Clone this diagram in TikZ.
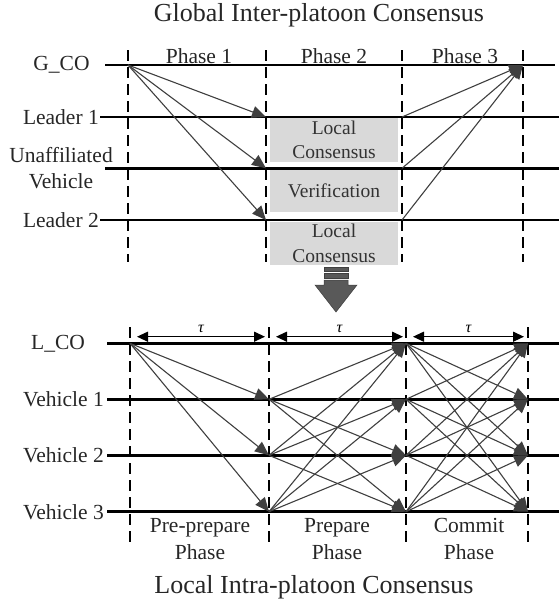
\documentclass[tikz,border=0pt]{standalone}
\usepackage{fontspec}
\setmainfont{Liberation Serif}
\usetikzlibrary{arrows.meta,positioning}

\definecolor{msggray}{HTML}{3F3F3F}
\definecolor{boxgray}{HTML}{D9D9D9}
\definecolor{bigarrow}{HTML}{595959}

\tikzset{
  lbl/.style={font=\fontsize{21.5}{26.5}\selectfont, inner sep=0pt, text=black!85},
  ttl/.style={font=\fontsize{26}{30}\selectfont, inner sep=0pt, text=black!85},
  boxlbl/.style={fill=boxgray, minimum width=128pt, inner sep=0pt, align=center,
    font=\fontsize{19.5}{24.5}\selectfont, text=black!80},
  taulbl/.style={font=\fontsize{16}{18}\selectfont\itshape, inner sep=0pt},
  timeline/.style={line width=2.8pt},
  phaseline/.style={line width=2pt, dash pattern=on 11pt off 6pt},
  msg/.style={draw=msggray, line width=1.1pt, -{Triangle[length=14pt,width=12pt]}},
  period/.style={line width=1.2pt, {Triangle[length=11pt,width=10pt]}-{Triangle[length=11pt,width=10pt]}}
}

\begin{document}
\begin{tikzpicture}[x=1pt,y=-1pt]
    \useasboundingbox (0,0) rectangle (559,606);

    \node[ttl] (T1) at (319,15) {Global Inter-platoon Consensus};
    \node[lbl] (GCO) at (61.5,65) {G\_CO};
    \node[lbl, anchor=east] (LD1) at (99,117) {Leader 1};
    \node[lbl, align=center] (UV) at (61,168) {Unaffiliated\\Vehicle};
    \node[lbl, anchor=east] (LD2) at (99,220) {Leader 2};
    \node[lbl] (PH1) at (199,56) {Phase 1};
    \node[lbl] (PH2) at (334,56) {Phase 2};
    \node[lbl] (PH3) at (465,56) {Phase 3};

    \node[boxlbl, minimum height=44pt] (LC1) at (334,140) {Local\\Consensus};
    \node[boxlbl, minimum height=42pt] (VF) at (334,191) {Verification};
    \node[boxlbl, minimum height=43pt] (LC2) at (334,243.5) {Local\\Consensus};

    \coordinate (GCO-s) at (105,65);
    \coordinate (GCO-e) at (555,65);
    \coordinate (LD1-e) at (559,117);
    \coordinate (UV-s) at (105,168.3);
    \coordinate (UV-e) at (559,168.3);
    \coordinate (LD2-e) at (559,220);
    \coordinate (GCO-a) at (128,65);
    \coordinate (GCO-d) at (523,65);
    \coordinate (LD1-b) at (266,117);
    \coordinate (UV-b) at (266,168.3);
    \coordinate (LD2-b) at (266,220);
    \coordinate (LD1-c) at (402,117);
    \coordinate (UV-c) at (402,168.3);
    \coordinate (LD2-c) at (402,220);

    \draw[timeline] (GCO-s) -- (GCO-e);
    \draw[timeline] ([xshift=1pt]LD1.east) -- (LD1-e);
    \draw[timeline] (UV-s) -- (UV-e);
    \draw[timeline] ([xshift=1pt]LD2.east) -- (LD2-e);

    \draw[phaseline] (128,50) -- (128,262);
    \draw[phaseline] (266,50) -- (266,262);
    \draw[phaseline] (402,50) -- (402,262);
    \draw[phaseline] (523,50) -- (523,262);

    \draw[msg] (GCO-a) -- (LD1-b);
    \draw[msg] (GCO-a) -- (UV-b);
    \draw[msg] (GCO-a) -- (LD2-b);
    \draw[msg] (LD1-c) -- (GCO-d);
    \draw[msg] (UV-c) -- (GCO-d);
    \draw[msg] (LD2-c) -- (GCO-d);

    \fill[bigarrow, draw=msggray, line width=0.5pt] (324,267) rectangle (348,271);
    \fill[bigarrow, draw=msggray, line width=0.5pt] (324,273) rectangle (348,278);
    \fill[bigarrow, draw=msggray, line width=0.5pt] (324,280) -- (348,280) -- (348,285)
      -- (357,285) -- (336,312) -- (315,285) -- (324,285) -- cycle;

    \node[lbl] (LCO) at (58,343.3) {L\_CO};
    \node[lbl, anchor=east] (VH1) at (104,399.3) {Vehicle 1};
    \node[lbl, anchor=east] (VH2) at (104,455.3) {Vehicle 2};
    \node[lbl, anchor=east] (VH3) at (104,511.7) {Vehicle 3};
    \node[lbl, align=center] (PP) at (200,539) {Pre-prepare\\Phase};
    \node[lbl, align=center] (PR) at (337,539) {Prepare\\Phase};
    \node[lbl, align=center] (CM) at (469,539) {Commit\\Phase};
    \node[ttl] (T2) at (314,587) {Local Intra-platoon Consensus};

    \coordinate (LCO-a) at (130,343.3);
    \coordinate (LCO-c) at (406,343.3);
    \coordinate (LCO-d) at (528,343.3);
    \coordinate (V1-b) at (269,399.3);
    \coordinate (V1-c) at (406,399.3);
    \coordinate (V1-d) at (528,399.3);
    \coordinate (V2-b) at (269,455.3);
    \coordinate (V2-c) at (406,455.3);
    \coordinate (V2-d) at (528,455.3);
    \coordinate (V3-b) at (269,511.7);
    \coordinate (V3-c) at (406,511.7);
    \coordinate (V3-d) at (528,511.7);

    \draw[timeline] (107,343.3) -- (559,343.3);
    \draw[timeline] (107,399.3) -- (559,399.3);
    \draw[timeline] (107,455.3) -- (559,455.3);
    \draw[timeline] (107,511.7) -- (559,511.7);

    \draw[phaseline] (130,327) -- (130,545);
    \draw[phaseline] (269,327) -- (269,545);
    \draw[phaseline] (406,327) -- (406,545);
    \draw[phaseline] (528,327) -- (528,545);

    \draw[period] (137,336.7) -- node[taulbl, above=3pt] (TAU1) {τ} (265,336.7);
    \draw[period] (276,336.7) -- node[taulbl, above=3pt] (TAU2) {τ} (403,336.7);
    \draw[period] (413,336.7) -- node[taulbl, above=3pt] (TAU3) {τ} (524,336.7);

    \draw[msg] (LCO-a) -- (V1-b);
    \draw[msg] (LCO-a) -- (V2-b);
    \draw[msg] (LCO-a) -- (V3-b);

    \draw[msg] (V1-b) -- (LCO-c);
    \draw[msg] (V1-b) -- (V2-c);
    \draw[msg] (V1-b) -- (V3-c);
    \draw[msg] (V2-b) -- (LCO-c);
    \draw[msg] (V2-b) -- (V1-c);
    \draw[msg] (V2-b) -- (V3-c);
    \draw[msg] (V3-b) -- (LCO-c);
    \draw[msg] (V3-b) -- (V1-c);
    \draw[msg] (V3-b) -- (V2-c);

    \draw[msg] (LCO-c) -- (V1-d);
    \draw[msg] (LCO-c) -- (V2-d);
    \draw[msg] (LCO-c) -- (V3-d);
    \draw[msg] (V1-c) -- (LCO-d);
    \draw[msg] (V1-c) -- (V2-d);
    \draw[msg] (V1-c) -- (V3-d);
    \draw[msg] (V2-c) -- (LCO-d);
    \draw[msg] (V2-c) -- (V1-d);
    \draw[msg] (V2-c) -- (V3-d);
    \draw[msg] (V3-c) -- (LCO-d);
    \draw[msg] (V3-c) -- (V1-d);
    \draw[msg] (V3-c) -- (V2-d);
\end{tikzpicture}
\end{document}
